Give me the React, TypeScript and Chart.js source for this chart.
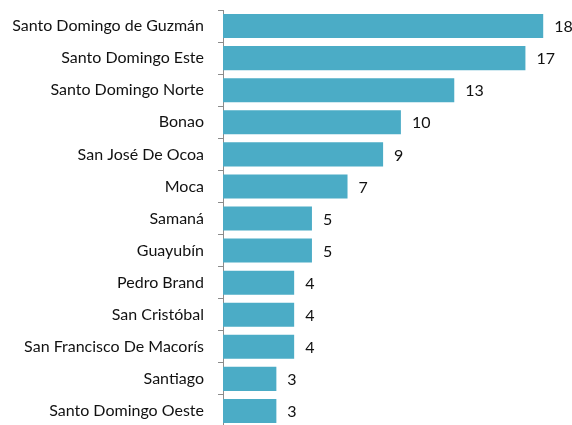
import React, { useEffect, useRef } from "react";
import { Chart, registerables } from "chart.js";

Chart.register(...registerables);

const categories = [
  "Santo Domingo de Guzmán",
  "Santo Domingo Este",
  "Santo Domingo Norte",
  "Bonao",
  "San José De Ocoa",
  "Moca",
  "Samaná",
  "Guayubín",
  "Pedro Brand",
  "San Cristóbal",
  "San Francisco De Macorís",
  "Santiago",
  "Santo Domingo Oeste",
];
const values = [18, 17, 13, 10, 9, 7, 5, 5, 4, 4, 4, 3, 3];

const FONT = "Lato, 'Open Sans', sans-serif";

const valueLabels = {
  id: "valueLabels",
  afterDatasetsDraw(chart: any) {
    const ctx = chart.ctx;
    const meta = chart.getDatasetMeta(0);
    ctx.save();
    ctx.font = `16px ${FONT}`;
    ctx.fillStyle = "#111111";
    ctx.textAlign = "left";
    ctx.textBaseline = "middle";
    meta.data.forEach((bar: any, i: number) => {
      ctx.fillText(String(values[i]), bar.x + 11, bar.y + 1);
    });
    ctx.restore();
  },
};

export default function App() {
  const ref = useRef<HTMLCanvasElement>(null);
  useEffect(() => {
    if (!ref.current) return;
    const chart = new Chart(ref.current, {
      type: "bar",
      data: {
        labels: categories,
        datasets: [
          {
            data: values,
            backgroundColor: "#4BACC6",
            borderWidth: 0,
            barPercentage: 0.75,
            categoryPercentage: 1,
          },
        ],
      },
      options: {
        indexAxis: "y",
        animation: false,
        responsive: false,
        layout: { padding: { left: 0, right: 11, top: 10, bottom: 3 } },
        plugins: { legend: { display: false }, tooltip: { enabled: false } },
        scales: {
          x: { display: false, min: 0, max: 19 },
          y: {
            afterFit: (s: any) => {
              s.width = 223;
              s.paddingTop = 0;
              s.paddingBottom = 0;
            },
            grid: {
              display: true,
              drawOnChartArea: false,
              drawTicks: true,
              tickLength: 5,
              tickColor: "#8c8c8c",
              offset: true,
            },
            border: { display: true, color: "#8c8c8c", width: 1 },
            ticks: {
              padding: 14,
              color: "#111111",
              font: { family: FONT, size: 16 },
            },
          },
        },
      },
      plugins: [valueLabels],
    });
    return () => chart.destroy();
  }, []);
  return (
    <div style={{ position: "fixed", left: 0, top: 0, width: 572, height: 425, overflow: "hidden", background: "#fff" }}>
      <canvas ref={ref} width={572} height={430} style={{ display: "block" }} />
    </div>
  );
}
